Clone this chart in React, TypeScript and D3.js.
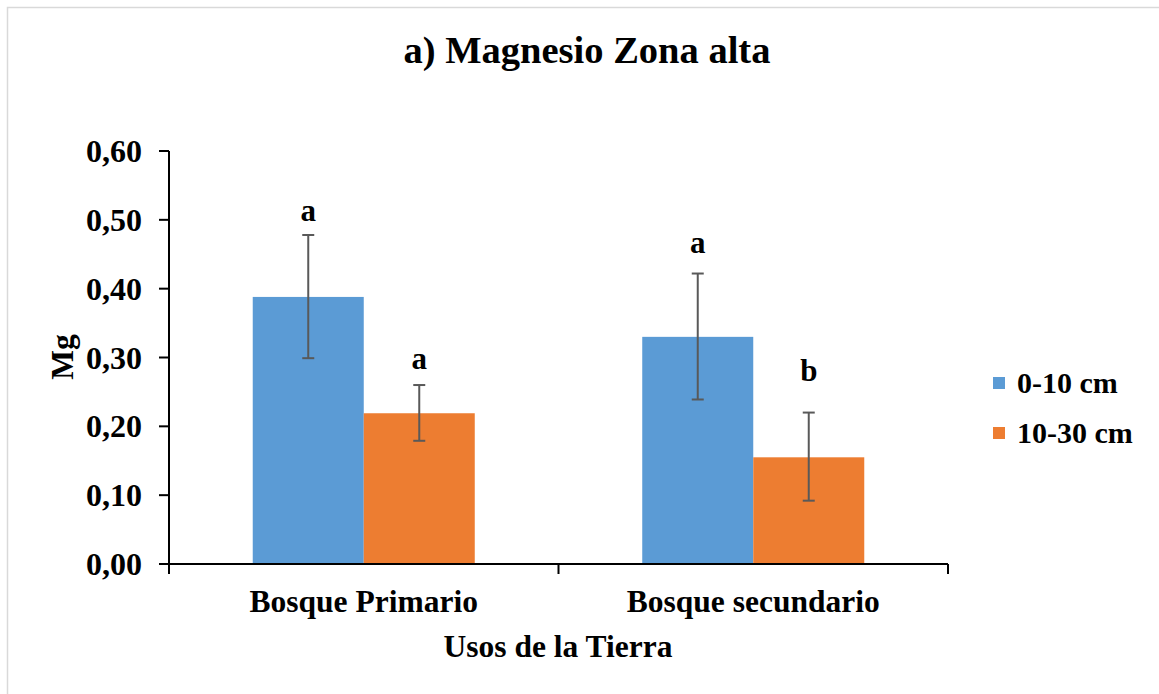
import React from "react";
import * as d3 from "d3";

const categories = ["Bosque Primario", "Bosque secundario"];
const seriesNames = ["0-10 cm", "10-30 cm"];
const seriesColors = ["#5B9BD5", "#ED7D31"];
const values0_10 = [0.388, 0.33];
const values10_30 = [0.219, 0.155];
const errLow0_10 = [0.299, 0.239];
const errHigh0_10 = [0.478, 0.422];
const errLow10_30 = [0.179, 0.092];
const errHigh10_30 = [0.26, 0.22];
const letters0_10 = ["a", "a"];
const letters10_30 = ["a", "b"];
const letterAt0_10 = [0.498, 0.452];
const letterAt10_30 = [0.283, 0.266];
const yTicks = [0, 0.1, 0.2, 0.3, 0.4, 0.5, 0.6];

const W = 1159;
const H = 694;
const FONT = "'Liberation Serif', 'Times New Roman', serif";

export default function App() {
  const x0 = d3.scaleBand<string>().domain(categories).range([169, 948]).paddingInner(0.43).paddingOuter(0.215);
  const x1 = d3.scaleBand<string>().domain(seriesNames).range([0, x0.bandwidth()]).padding(0);
  const y = d3.scaleLinear().domain([0, 0.6]).range([564, 151]);

  const series = [
    { name: seriesNames[0], color: seriesColors[0], vals: values0_10, lo: errLow0_10, hi: errHigh0_10, letters: letters0_10, lat: letterAt0_10 },
    { name: seriesNames[1], color: seriesColors[1], vals: values10_30, lo: errLow10_30, hi: errHigh10_30, letters: letters10_30, lat: letterAt10_30 },
  ];

  const fmt = (v: number) => v.toFixed(2).replace(".", ",");
  const xTickPos = [169, ...categories.map((c) => (x0(c) as number) + x0.bandwidth() + (x0.step() - x0.bandwidth()) / 2)];

  return (
    <svg width={W} height={H} style={{ position: "absolute", left: 0, top: 0, display: "block", background: "#fff" }} fontFamily={FONT}>
      <rect x={0} y={0} width={W} height={H} fill="#fff" />
      <rect x={7.5} y={7.5} width={W + 20} height={H + 20} fill="none" stroke="#d9d9d9" strokeWidth={1.5} />
      <text x={587} y={63} textAnchor="middle" fontSize={38.5} fontWeight="bold">a) Magnesio Zona alta</text>

      {series.map((s, si) =>
        categories.map((c, ci) => {
          const bx = (x0(c) as number) + (x1(s.name) as number);
          const bw = x1.bandwidth();
          const cx = bx + bw / 2;
          return (
            <g key={`${si}-${ci}`}>
              <rect x={bx} y={y(s.vals[ci])} width={bw} height={y(0) - y(s.vals[ci])} fill={s.color} />
              <g stroke="#595959" strokeWidth={2}>
                <line x1={cx} x2={cx} y1={y(s.lo[ci])} y2={y(s.hi[ci])} />
                <line x1={cx - 6} x2={cx + 6} y1={y(s.lo[ci])} y2={y(s.lo[ci])} />
                <line x1={cx - 6} x2={cx + 6} y1={y(s.hi[ci])} y2={y(s.hi[ci])} />
              </g>
              <text x={cx} y={y(s.lat[ci])} textAnchor="middle" fontSize={31} fontWeight="bold">{s.letters[ci]}</text>
            </g>
          );
        })
      )}

      {/* y axis */}
      <line x1={169} x2={169} y1={y(0.6)} y2={y(0) + 8} stroke="#000" strokeWidth={2} />
      {yTicks.map((t) => (
        <g key={t}>
          <line x1={159} x2={169} y1={y(t)} y2={y(t)} stroke="#000" strokeWidth={2} />
          <text x={142} y={y(t) + 11} textAnchor="end" fontSize={32} fontWeight="bold">{fmt(t)}</text>
        </g>
      ))}
      {/* x axis */}
      <line x1={168} x2={948} y1={y(0)} y2={y(0)} stroke="#000" strokeWidth={2} />
      {xTickPos.map((p, i) => (
        <line key={i} x1={p} x2={p} y1={y(0)} y2={y(0) + 10} stroke="#000" strokeWidth={2} />
      ))}
      {categories.map((c) => (
        <text key={c} x={(x0(c) as number) + x0.bandwidth() / 2} y={612} textAnchor="middle" fontSize={31.5} fontWeight="bold">{c}</text>
      ))}
      <text x={558} y={657} textAnchor="middle" fontSize={31.5} fontWeight="bold">Usos de la Tierra</text>
      <text transform={`translate(73,${357}) rotate(-90)`} textAnchor="middle" fontSize={31.5} fontWeight="bold">Mg</text>

      {/* legend */}
      {series.map((s, i) => (
        <g key={s.name} transform={`translate(993,${377 + i * 50})`}>
          <rect x={0} y={0} width={12} height={12} fill={s.color} />
          <text x={24} y={16} fontSize={30} fontWeight="bold">{s.name}</text>
        </g>
      ))}
    </svg>
  );
}
